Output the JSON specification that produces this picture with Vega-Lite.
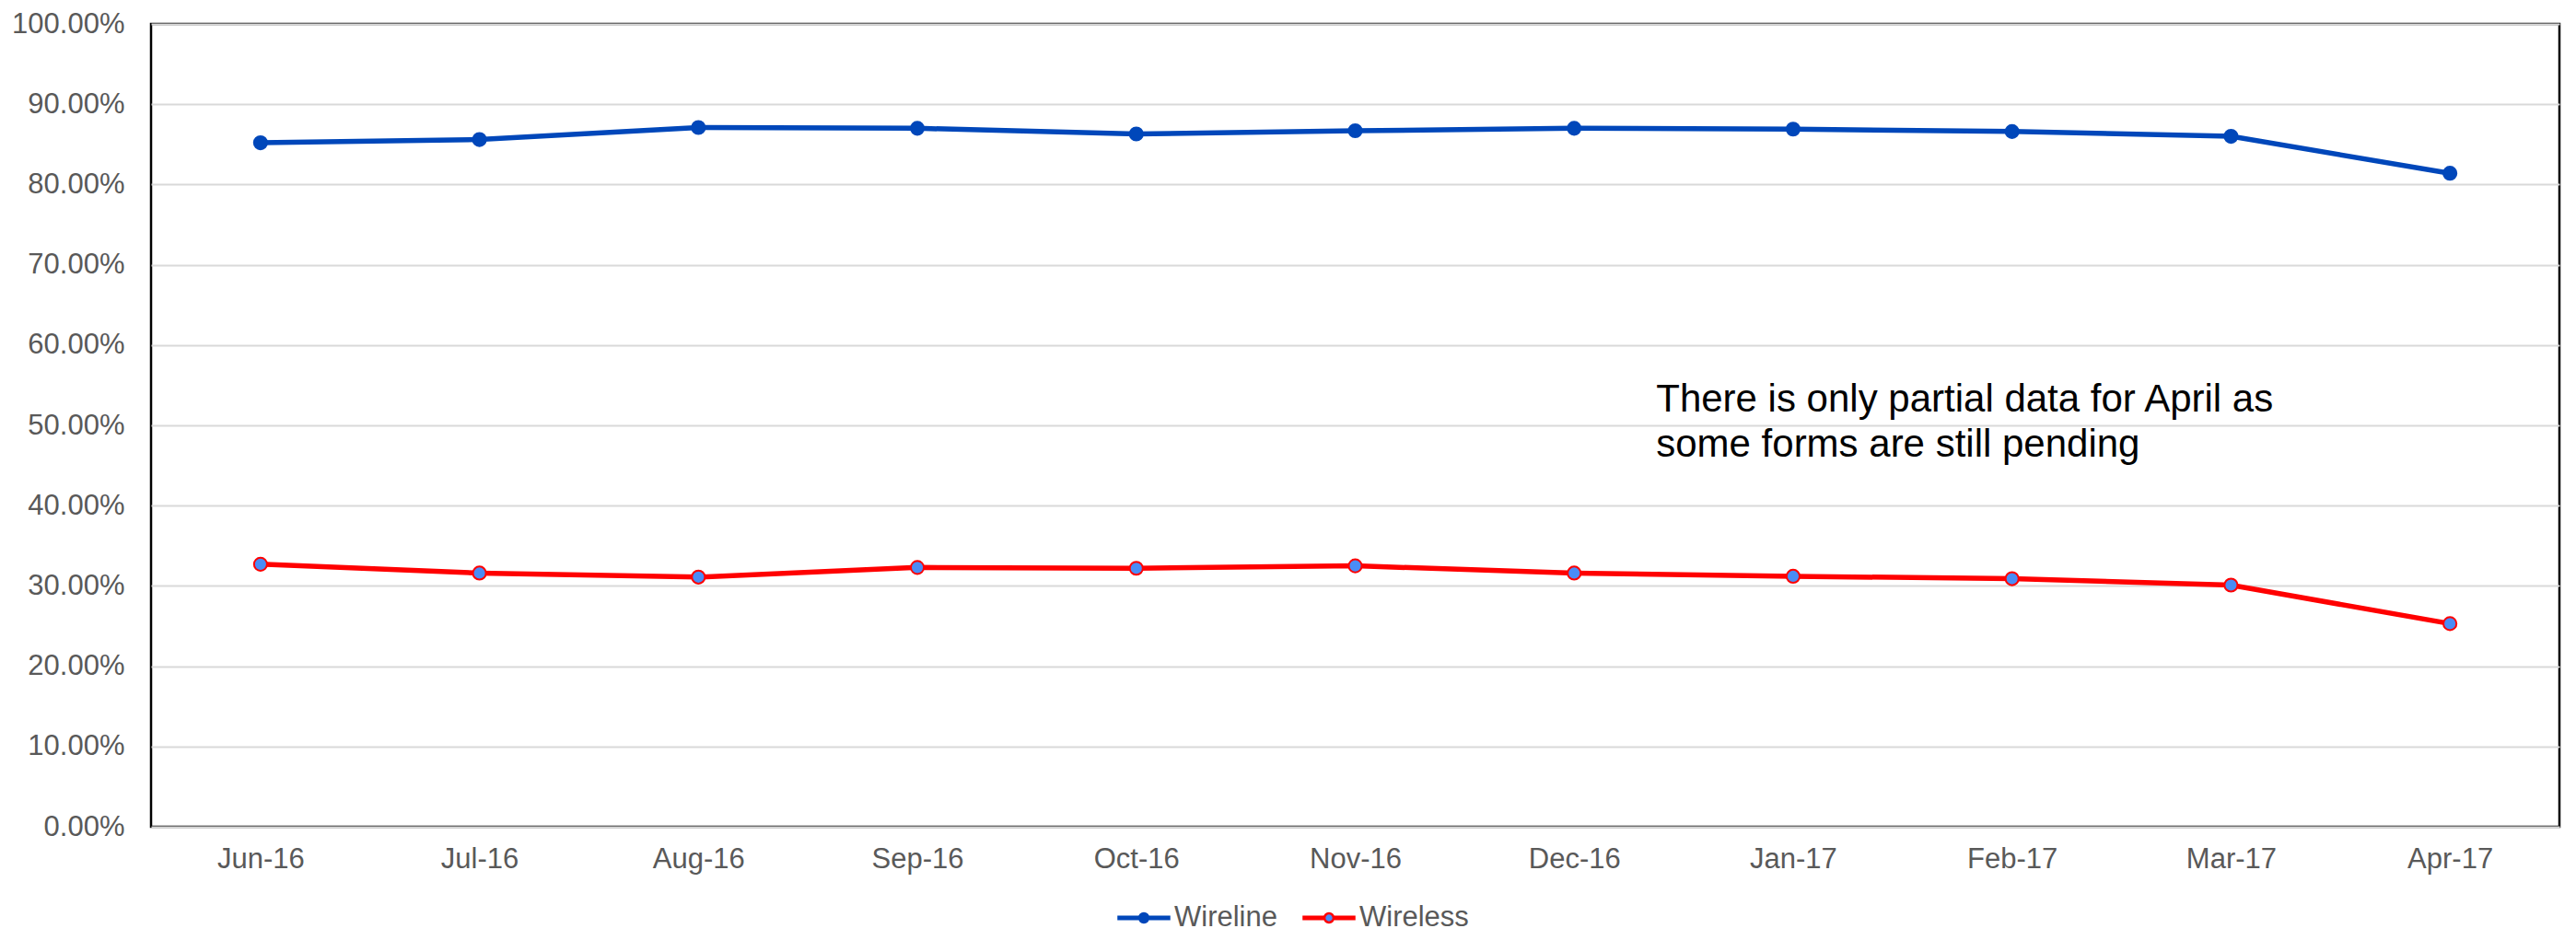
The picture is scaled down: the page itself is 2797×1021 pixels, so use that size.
{
  "$schema": "https://vega.github.io/schema/vega-lite/v6.json",
  "width": 2615,
  "height": 872,
  "autosize": {"type": "none"},
  "padding": {"left": 164, "top": 26, "right": 18, "bottom": 123},
  "background": "#ffffff",
  "config": {
    "font": "Liberation Sans",
    "view": {"stroke": "#000000", "strokeWidth": 2.5},
    "axis": {
      "labelFont": "Liberation Sans",
      "labelFontSize": 31,
      "labelColor": "#595959",
      "ticks": false,
      "tickSize": 0,
      "domain": false,
      "title": null
    }
  },
  "datasets": {
    "share": [
      {"month": "Jun-16", "series": "Wireline", "value": 0.852},
      {"month": "Jul-16", "series": "Wireline", "value": 0.856},
      {"month": "Aug-16", "series": "Wireline", "value": 0.871},
      {"month": "Sep-16", "series": "Wireline", "value": 0.870},
      {"month": "Oct-16", "series": "Wireline", "value": 0.863},
      {"month": "Nov-16", "series": "Wireline", "value": 0.867},
      {"month": "Dec-16", "series": "Wireline", "value": 0.870},
      {"month": "Jan-17", "series": "Wireline", "value": 0.869},
      {"month": "Feb-17", "series": "Wireline", "value": 0.866},
      {"month": "Mar-17", "series": "Wireline", "value": 0.860},
      {"month": "Apr-17", "series": "Wireline", "value": 0.814},
      {"month": "Jun-16", "series": "Wireless", "value": 0.327},
      {"month": "Jul-16", "series": "Wireless", "value": 0.316},
      {"month": "Aug-16", "series": "Wireless", "value": 0.311},
      {"month": "Sep-16", "series": "Wireless", "value": 0.323},
      {"month": "Oct-16", "series": "Wireless", "value": 0.322},
      {"month": "Nov-16", "series": "Wireless", "value": 0.325},
      {"month": "Dec-16", "series": "Wireless", "value": 0.316},
      {"month": "Jan-17", "series": "Wireless", "value": 0.312},
      {"month": "Feb-17", "series": "Wireless", "value": 0.309},
      {"month": "Mar-17", "series": "Wireless", "value": 0.301},
      {"month": "Apr-17", "series": "Wireless", "value": 0.253}
    ]
  },
  "layer": [
    {
      "data": {"name": "share"},
      "mark": {"type": "line", "strokeWidth": 5.5},
      "encoding": {
        "x": {
          "field": "month",
          "type": "ordinal",
          "scale": {
            "type": "point",
            "padding": 0.5,
            "domain": ["Jun-16", "Jul-16", "Aug-16", "Sep-16", "Oct-16", "Nov-16", "Dec-16", "Jan-17", "Feb-17", "Mar-17", "Apr-17"]
          },
          "axis": {"labelAngle": 0, "labelPadding": 20, "grid": false}
        },
        "y": {
          "field": "value",
          "type": "quantitative",
          "scale": {"domain": [0, 1], "nice": false},
          "axis": {
            "values": [0, 0.1, 0.2, 0.3, 0.4, 0.5, 0.6, 0.7, 0.8, 0.9, 1],
            "format": ".2%",
            "labelPadding": 29,
            "grid": true,
            "gridColor": "#d9d9d9",
            "gridWidth": 2
          }
        },
        "color": {
          "field": "series",
          "type": "nominal",
          "scale": {"domain": ["Wireline", "Wireless"], "range": ["#0047BA", "#FF0000"]},
          "legend": {
            "orient": "none",
            "legendX": 1049,
            "legendY": 942,
            "direction": "horizontal",
            "title": null,
            "symbolType": "M-1 -0.045H-0.18V0.045H-1Z M0.18 -0.045H1V0.045H0.18Z M-0.18 0A0.18 0.18 0 1 0 0.18 0A0.18 0.18 0 1 0 -0.18 0Z",
            "symbolSize": 3025,
            "symbolStrokeWidth": 2.5,
            "labelFont": "Liberation Sans",
            "labelFontSize": 31,
            "labelColor": "#595959",
            "labelOffset": 4,
            "columnPadding": 23,
            "encode": {
              "symbols": {
                "update": {
                  "fill": {"signal": "datum.value === 'Wireless' ? '#4A8CF6' : '#0047BA'"},
                  "stroke": {"signal": "datum.value === 'Wireless' ? '#FF0000' : '#0047BA'"},
                  "strokeWidth": {"value": 2.5},
                  "opacity": {"value": 1}
                }
              }
            }
          }
        }
      }
    },
    {
      "data": {"name": "share"},
      "mark": {"type": "circle", "size": 200, "strokeWidth": 2, "opacity": 1},
      "encoding": {
        "x": {"field": "month", "type": "ordinal"},
        "y": {"field": "value", "type": "quantitative"},
        "fill": {
          "field": "series",
          "type": "nominal",
          "scale": {"domain": ["Wireline", "Wireless"], "range": ["#0047BA", "#4A8CF6"]},
          "legend": null
        },
        "stroke": {
          "field": "series",
          "type": "nominal",
          "scale": {"domain": ["Wireline", "Wireless"], "range": ["#0047BA", "#FF0000"]},
          "legend": null
        }
      }
    },
    {
      "data": {"values": [{"note": ["There is only partial data for April as", "some forms are still pending"]}]},
      "mark": {
        "type": "text",
        "align": "left",
        "baseline": "alphabetic",
        "font": "Liberation Sans",
        "fontSize": 42,
        "lineHeight": 49,
        "color": "#000000",
        "dx": 89
      },
      "encoding": {
        "x": {"datum": "Dec-16"},
        "y": {"datum": 0.517},
        "text": {"field": "note"}
      }
    }
  ]
}
